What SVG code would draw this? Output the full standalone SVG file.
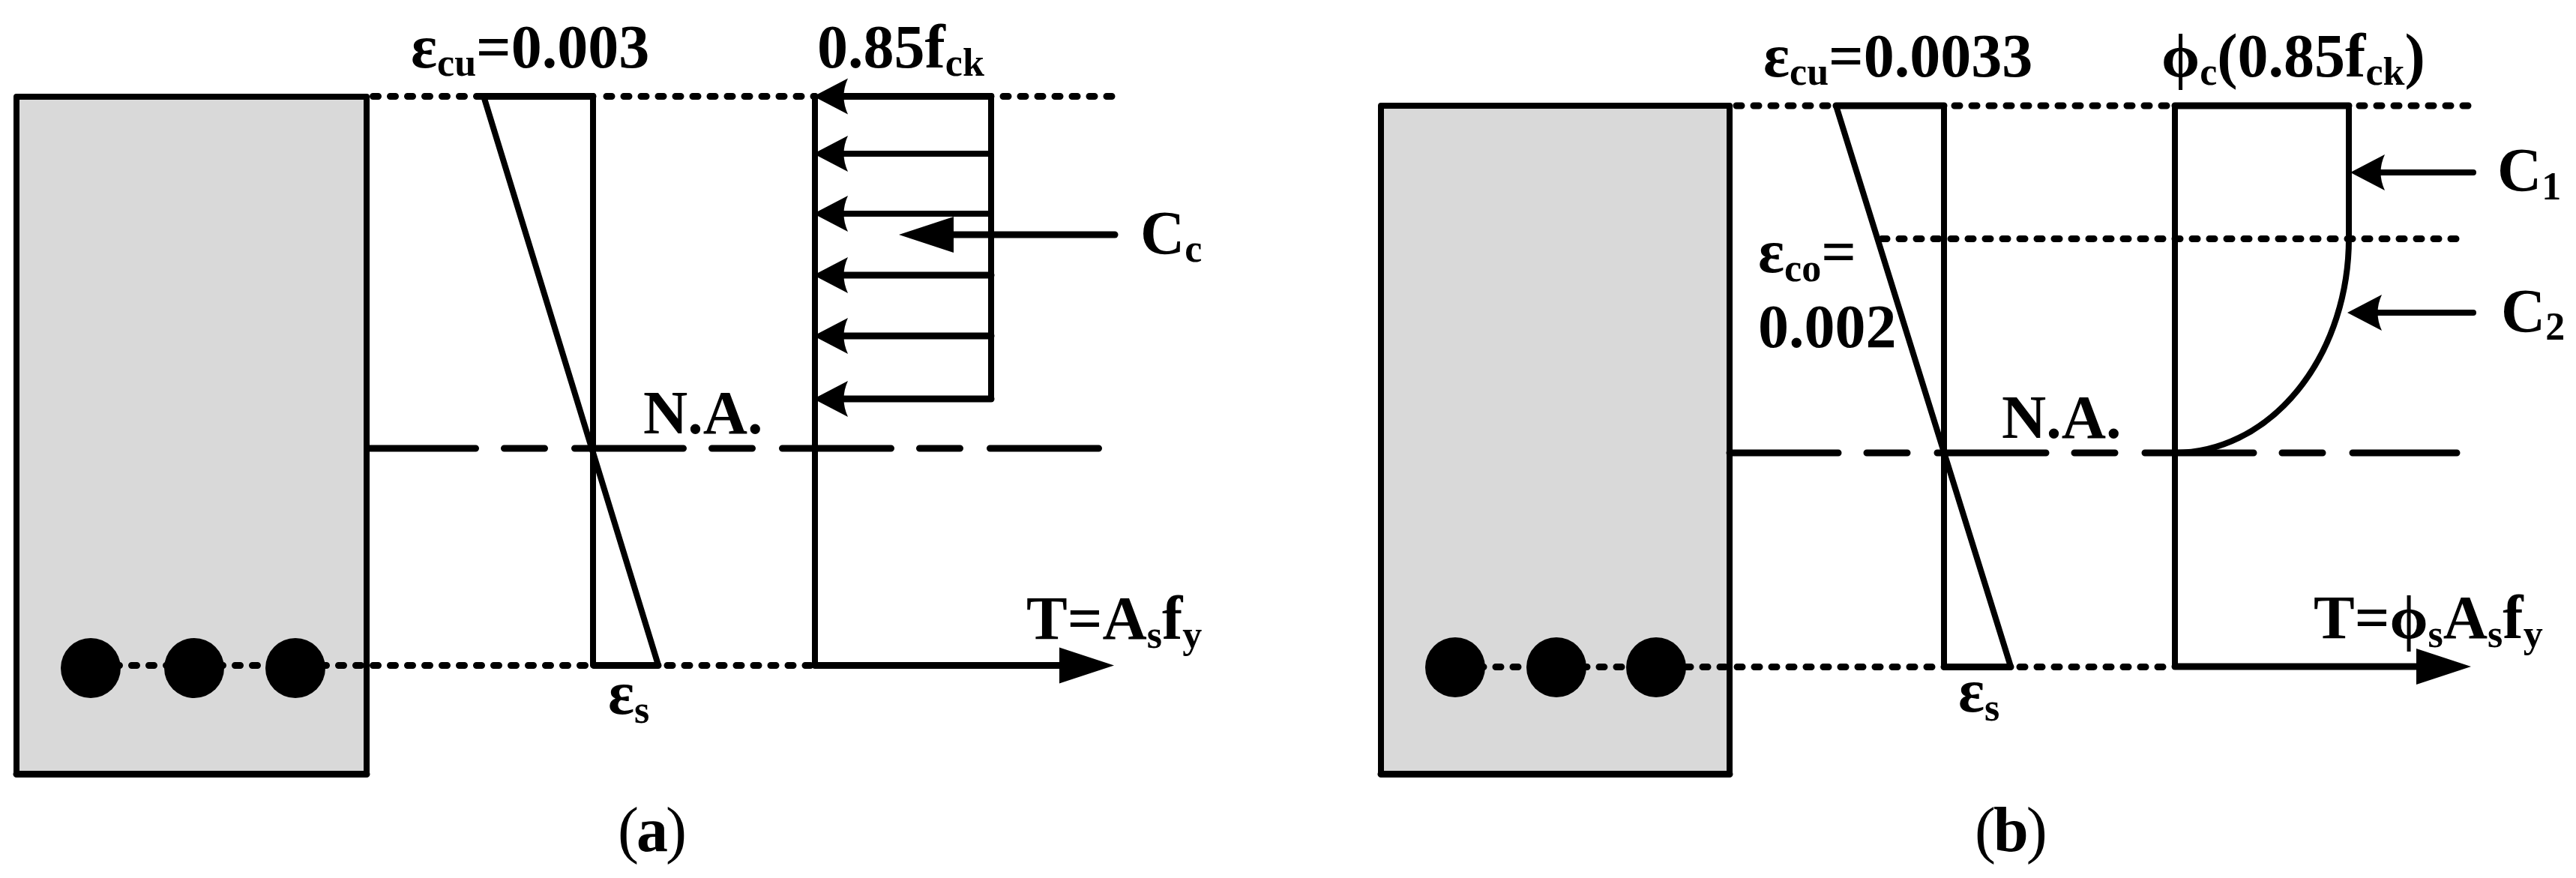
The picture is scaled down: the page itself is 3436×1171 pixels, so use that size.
<svg xmlns="http://www.w3.org/2000/svg" width="3436" height="1171" viewBox="0 0 3436 1171">
<style>
.t{font-family:"Liberation Serif","Times New Roman",serif;font-weight:bold;font-size:82px;fill:#000}
.s{font-size:52px}
.r{font-weight:normal}
.cap{font-size:84px;letter-spacing:-3px}
.sec{fill:#d9d9d9;stroke:#000;stroke-width:8;stroke-linejoin:round}
.base{fill:none;stroke:#000;stroke-width:9;stroke-linecap:round}
.ln{fill:none;stroke:#000;stroke-width:8;stroke-linecap:round;stroke-linejoin:round}
.th{fill:none;stroke:#000;stroke-width:9;stroke-linecap:round}
.sh{fill:none;stroke:#000;stroke-width:8;stroke-linecap:round}
.dot{fill:none;stroke:#000;stroke-width:9;stroke-linecap:round;stroke-dasharray:7 16}
.na{fill:none;stroke:#000;stroke-width:9;stroke-linecap:round;stroke-dasharray:145 38 54 40}
.bar{fill:#000}
.ar{marker-end:url(#stealth)}
.br{marker-end:url(#tri)}
</style>
<defs>
<marker id="stealth" markerUnits="userSpaceOnUse" markerWidth="46" markerHeight="50" refX="16" refY="25" orient="auto" viewBox="0 0 46 50"><path d="M46 25L0 1Q11 25 0 49Z" fill="#000"/></marker>
<marker id="tri" markerUnits="userSpaceOnUse" markerWidth="73" markerHeight="50" refX="12" refY="25" orient="auto" viewBox="0 0 73 50"><path d="M73 25L0 1V49Z" fill="#000"/></marker>
</defs>
<rect width="3436" height="1171" fill="#fff"/>

<g id="section-a">
<rect class="sec" x="22" y="129" width="467" height="903"/>
<path class="base" d="M22 1032.500H489"/>
</g>
<g id="section-b">
<rect class="sec" x="1842" y="141" width="465" height="891"/>
<path class="base" d="M1842 1032.500H2307"/>
</g>

<g id="connectors">
<path class="dot" d="M497.500 128.500H645M809 128.500H1087M1338 128.500H1487"/>
<path class="dot" d="M106.500 887.500H792M890 887.500H1087"/>
<path class="na" d="M489.500 598H1466"/>
<path class="ln" d="M791 128V887M645 128L878 887M1087 128V887M1322 128V532"/>
<path class="th" d="M645 128.500H791M792 887.500H878"/>
<path class="th ar" d="M1322 128.500H1115"/>
<path class="sh ar" d="M1322 205H1115"/>
<path class="sh ar" d="M1322 285H1115"/>
<path class="th ar" d="M1322 367H1115"/>
<path class="th ar" d="M1322 448H1115"/>
<path class="th ar" d="M1322 532H1115"/>
<path class="th br" d="M1487 313H1260"/>
<path class="th br" d="M1087 887.500H1425"/>

<path class="dot" d="M2316 141H2449M2607 141H2901M3147 141H3299"/>
<path class="dot" d="M2510 318.500H3289"/>
<path class="dot" d="M1926 889.500H2595M2694 889.500H2901"/>
<path class="na" d="M2307 604H3277"/>
<path class="ln" d="M2593 141V889M2449 141L2682 889M2901 141V889M3133 141V318"/>
<path class="ln" d="M2901 604A232 286 0 0 0 3133 318"/>
<path class="th" d="M2449 141H2593M2595 889.500H2682M2901 141H3133"/>
<path class="sh ar" d="M3299 230H3165"/>
<path class="sh ar" d="M3299 417H3161"/>
<path class="th br" d="M2901 889H3235"/>
</g>

<g id="bars-a"><ellipse class="bar" cx="121" cy="891" rx="40" ry="40"/><ellipse class="bar" cx="259" cy="891" rx="40" ry="40"/><ellipse class="bar" cx="394" cy="891" rx="40" ry="40"/></g>
<g id="bars-b"><ellipse class="bar" cx="1941" cy="890" rx="40" ry="40"/><ellipse class="bar" cx="2076" cy="890" rx="40" ry="40"/><ellipse class="bar" cx="2209" cy="890" rx="40" ry="40"/></g>

<g id="labels-a">
<text class="t" x="548" y="90">ε<tspan class="s" dy="11">cu</tspan><tspan dy="-11">=0.003</tspan></text>
<text class="t" x="1090" y="90">0.85f<tspan class="s" dy="11">ck</tspan></text>
<text class="t" x="1521" y="338">C<tspan class="s" dy="11">c</tspan></text>
<text class="t" x="858" y="578">N.A.</text>
<text class="t" x="1369" y="852">T=A<tspan class="s" dy="12">s</tspan><tspan dy="-12">f</tspan><tspan class="s" dy="12">y</tspan></text>
<text class="t" x="811" y="952">ε<tspan class="s" dy="12">s</tspan></text>
<text class="t cap" x="824" y="1135"><tspan class="r">(</tspan>a<tspan class="r">)</tspan></text>
</g>
<g id="labels-b">
<text class="t" x="2352" y="102">ε<tspan class="s" dy="11">cu</tspan><tspan dy="-11">=0.0033</tspan></text>
<text class="t" x="2883" y="102">ϕ<tspan class="s" dy="11">c</tspan><tspan dy="-11">(0.85f</tspan><tspan class="s" dy="11">ck</tspan><tspan dy="-11">)</tspan></text>
<text class="t" x="3331" y="254">C<tspan class="s" dy="12">1</tspan></text>
<text class="t" x="3336" y="442">C<tspan class="s" dy="11">2</tspan></text>
<text class="t" x="2345" y="363">ε<tspan class="s" dy="12">co</tspan><tspan dy="-12">=</tspan></text>
<text class="t" x="2345" y="463">0.002</text>
<text class="t" x="2670" y="584">N.A.</text>
<text class="t" x="3086" y="851">T=ϕ<tspan class="s" dy="12">s</tspan><tspan dy="-12">A</tspan><tspan class="s" dy="12">s</tspan><tspan dy="-12">f</tspan><tspan class="s" dy="12">y</tspan></text>
<text class="t" x="2612" y="949">ε<tspan class="s" dy="12">s</tspan></text>
<text class="t cap" x="2634" y="1135"><tspan class="r">(</tspan>b<tspan class="r">)</tspan></text>
</g>
</svg>
